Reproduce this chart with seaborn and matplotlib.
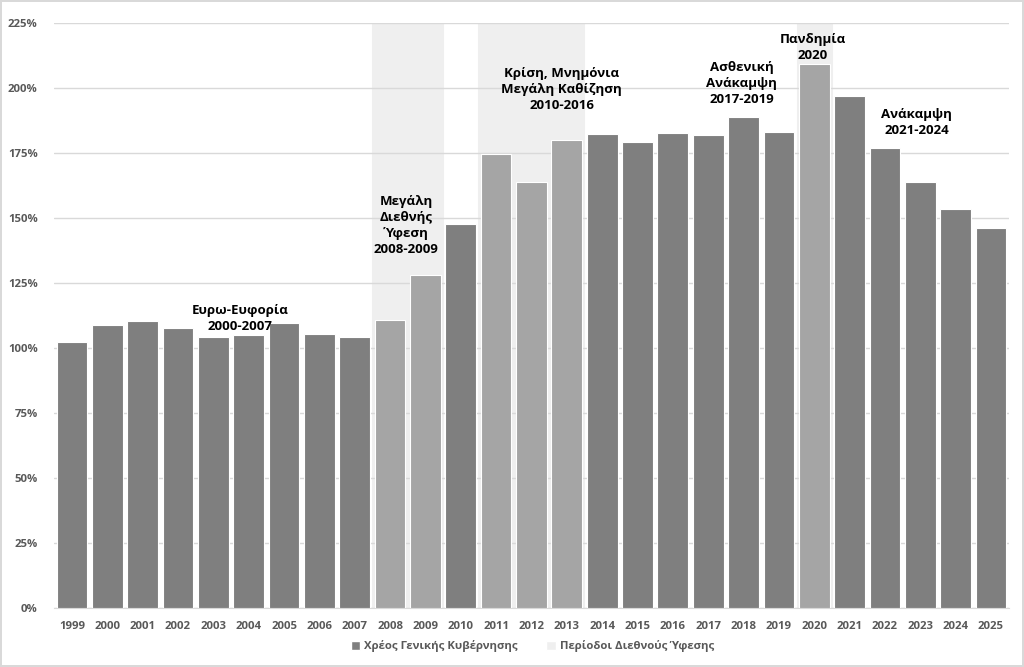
import pandas as pd
import seaborn as sns
import matplotlib.pyplot as plt
from matplotlib.patches import Patch
from matplotlib.ticker import FuncFormatter

# Δεδομένα: χρέος γενικής κυβέρνησης (% ΑΕΠ)
years = [str(y) for y in range(1999, 2026)]
debt = [102.4, 108.7, 110.3, 107.6, 104.1, 105.1, 109.6, 105.3, 104.2,
        110.8, 128.1, 147.7, 174.6, 163.7, 180.0, 182.4, 179.2, 182.7,
        181.9, 188.8, 182.9, 209.2, 196.9, 176.9, 163.7, 153.3, 146.3]
# Περίοδοι διεθνούς ύφεσης (σκίαση ως το 225%)
recession = [0, 0, 0, 0, 0, 0, 0, 0, 0,
             225, 225, 0, 225, 225, 225, 0, 0, 0,
             0, 0, 0, 225, 0, 0, 0, 0, 0]

notes = ["Ευρω-Ευφορία\n2000-2007",
         "Μεγάλη\nΔιεθνής\nΎφεση\n2008-2009",
         "Κρίση, Μνημόνια\nΜεγάλη Καθίζηση\n2010-2016",
         "Ασθενική\nΑνάκαμψη\n2017-2019",
         "Πανδημία\n2020",
         "Ανάκαμψη\n2021-2024"]
note_x = [4.75, 9.45, 13.85, 18.95, 20.95, 23.9]
note_y = [105.8, 135.5, 190.5, 193.0, 209.8, 181.0]

df = pd.DataFrame({"year": years, "debt": debt, "recession": recession})

sns.set_style("white")
plt.rcParams["font.family"] = ["Open Sans", "DejaVu Sans"]

fig = plt.figure(figsize=(10.24, 6.67), dpi=100, linewidth=1.5, edgecolor="#d9d9d9")
ax = fig.add_axes([0.053, 0.088, 0.932, 0.878])

dark = "#7f7f7f"
light = "#a5a5a5"
shade = "#efefef"

# σκίαση περιόδων ύφεσης
sns.barplot(data=df, x="year", y="recession", color=shade, width=1.0,
            saturation=1, edgecolor=shade, linewidth=0.8, ax=ax, zorder=0)

# μπάρες χρέους
bar_pal = {y: (light if r > 0 else dark) for y, r in zip(years, recession)}
sns.barplot(data=df, x="year", y="debt", hue="year", palette=bar_pal, legend=False,
            width=0.87, saturation=1, edgecolor="white", linewidth=0.8, ax=ax, zorder=3)

ax.set_ylim(0, 225)
ax.set_xlim(-0.5, 26.5)
ax.set_yticks(range(0, 226, 25))
ax.yaxis.set_major_formatter(FuncFormatter(lambda v, p: f"{int(v)}%"))
ax.set_xlabel("")
ax.set_ylabel("")
ax.grid(axis="y", color="#d9d9d9", linewidth=1, zorder=1)
ax.set_axisbelow(True)
for s in ["top", "right", "left"]:
    ax.spines[s].set_visible(False)
ax.spines["bottom"].set_color("#d9d9d9")
ax.tick_params(axis="both", length=0, labelsize=8.2, labelcolor="#595959")
ax.tick_params(axis="x", pad=9)
ax.tick_params(axis="y", pad=12)
for lab in ax.get_xticklabels() + ax.get_yticklabels():
    lab.set_fontweight("bold")

for t, x, y in zip(notes, note_x, note_y):
    ax.text(x, y, t, ha="center", va="bottom", fontsize=9.5, fontweight="bold",
            color="black", linespacing=1.3, zorder=5)

handles = [Patch(facecolor=dark, label="Χρέος Γενικής Κυβέρνησης"),
           Patch(facecolor=shade, label="Περίοδοι Διεθνούς Ύφεσης")]
leg = fig.legend(handles=handles, loc="center", bbox_to_anchor=(0.52, 0.031), ncol=2,
                 frameon=False, fontsize=8.2, handlelength=0.8, handleheight=0.8,
                 columnspacing=2.5, handletextpad=0.4)
for t in leg.get_texts():
    t.set_color("#595959")
    t.set_fontweight("bold")

fig.savefig("out.png", dpi=100)
